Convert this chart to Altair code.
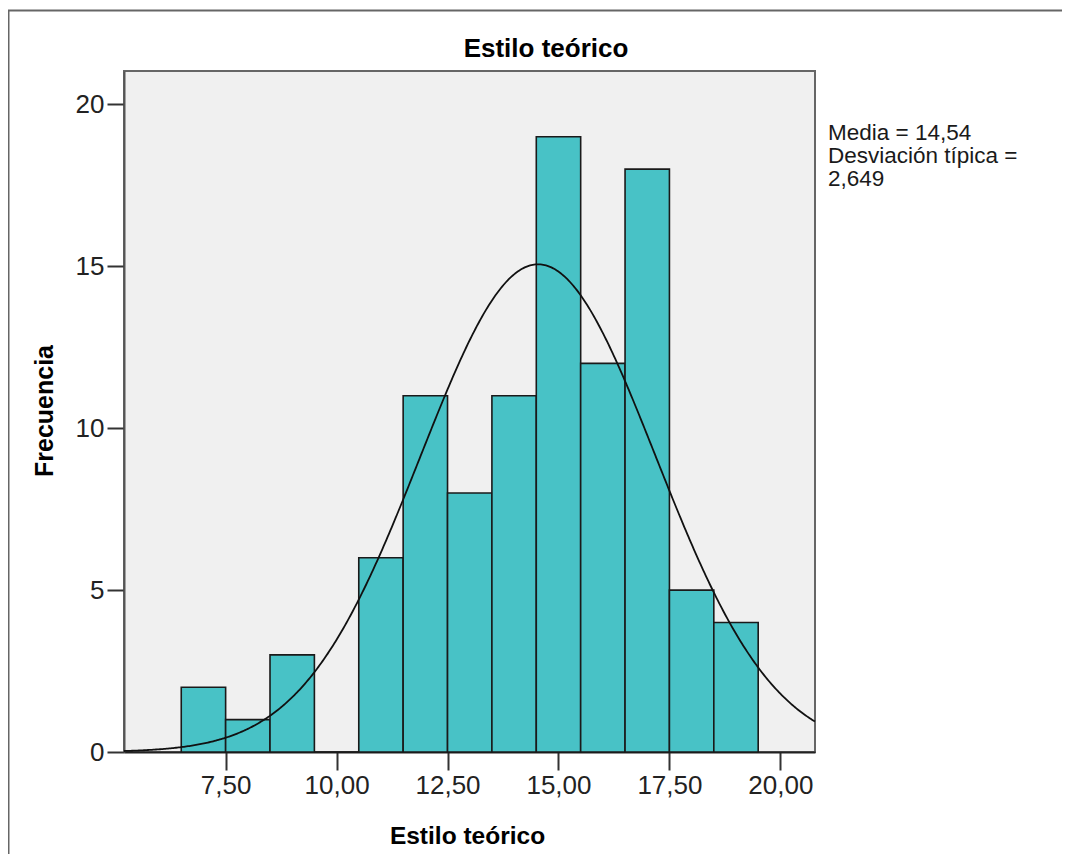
import altair as alt
import pandas as pd

# ---- data ----
bin_centers = [7, 8, 9, 10, 11, 12, 13, 14, 15, 16, 17, 18, 19]
frequencies = [2, 1, 3, 0, 6, 11, 8, 11, 19, 12, 18, 5, 4]
bin_width = 1.0
mean_value = 14.54
sd_value = 2.649
x_tick_values = [7.5, 10.0, 12.5, 15.0, 17.5, 20.0]
y_tick_values = [0, 5, 10, 15, 20]
x_domain = [5.21, 20.78]
y_domain = [0, 21.03]
chart_title = "Estilo teórico"
x_title = "Estilo teórico"
y_title = "Frecuencia"
stats_lines = ["Media = 14,54", "Desviación típica =", "2,649"]

FONT = "Liberation Sans"
W, H = 691, 681
n_total = sum(frequencies)

bars_df = pd.DataFrame({"center": bin_centers, "freq": frequencies})

xscale = alt.Scale(domain=x_domain, nice=False, zero=False)
yscale = alt.Scale(domain=y_domain, nice=False, zero=False)

xaxis = alt.Axis(values=x_tick_values, title=None, grid=False,
                 labelExpr="replace(format(datum.value, '.2f'), '.', ',')",
                 tickSize=18, tickWidth=2, tickColor="#333",
                 domainColor="#222", domainWidth=2,
                 labelFontSize=26, labelFont=FONT, labelColor="#222",
                 labelPadding=2, labelFlush=False)
yaxis = alt.Axis(values=y_tick_values, title=None, grid=False, format="d",
                 tickSize=17, tickWidth=2, tickColor="#333",
                 domainColor="#555", domainWidth=2,
                 labelFontSize=26, labelFont=FONT, labelColor="#222",
                 labelPadding=3)

bars = alt.Chart(bars_df).transform_calculate(
    lo=f"datum.center - {bin_width}/2",
    hi=f"datum.center + {bin_width}/2",
    base="0",
).mark_rect(color="#48C2C6", stroke="#1a1a1a", strokeWidth=1.6).encode(
    x=alt.X("lo:Q", scale=xscale, axis=xaxis),
    x2="hi:Q",
    y=alt.Y("freq:Q", scale=yscale, axis=yaxis),
    y2="base:Q",
)

curve = alt.Chart(
    alt.sequence(start=x_domain[0], stop=x_domain[1] + 0.01, step=0.03, as_="xv")
).transform_calculate(
    dens=f"{n_total}*{bin_width}/({sd_value}*sqrt(2*PI))*exp(-0.5*pow((datum.xv-{mean_value})/{sd_value},2))"
).mark_line(color="#111", strokeWidth=1.8).encode(
    x=alt.X("xv:Q", scale=xscale),
    y=alt.Y("dens:Q", scale=yscale),
)

one = alt.Data(values=[{"k": 1}])

border = alt.Chart(one).mark_rect(fillOpacity=0, stroke="#666", strokeWidth=2).encode(
    x=alt.value(-115.5), x2=alt.value(1200), y=alt.value(-60.5), y2=alt.value(1200)
)

title_mark = alt.Chart(one).mark_text(
    text=chart_title, font=FONT, fontSize=26, fontWeight="bold", color="#000",
    align="center", baseline="alphabetic"
).encode(x=alt.value(422), y=alt.value(-14))

xtitle_mark = alt.Chart(one).mark_text(
    text=x_title, font=FONT, fontSize=24.5, fontWeight="bold", color="#000",
    align="center", baseline="alphabetic"
).encode(x=alt.value(343.5), y=alt.value(773))

ytitle_mark = alt.Chart(one).mark_text(
    text=y_title, font=FONT, fontSize=25, fontWeight="bold", color="#000",
    align="center", baseline="alphabetic", angle=270
).encode(x=alt.value(-71), y=alt.value(340))

stats_mark = alt.Chart(one).mark_text(
    text=stats_lines, font=FONT, fontSize=22.5, color="#1a1a1a",
    align="left", baseline="alphabetic", lineHeight=23
).encode(x=alt.value(704), y=alt.value(69))

chart = alt.layer(
    border, bars, curve, title_mark, xtitle_mark, ytitle_mark, stats_mark
).properties(
    width=W, height=H,
    autosize=alt.AutoSizeParams(type="none"),
    padding={"left": 116, "top": 63, "right": 1054 - 116 - W, "bottom": 846 - 63 - H},
    background="white",
).configure_view(
    fill="#F0F0F0", stroke="#666", strokeWidth=2
)

chart.save("out.html", embed_options={"renderer": "svg", "actions": False})
